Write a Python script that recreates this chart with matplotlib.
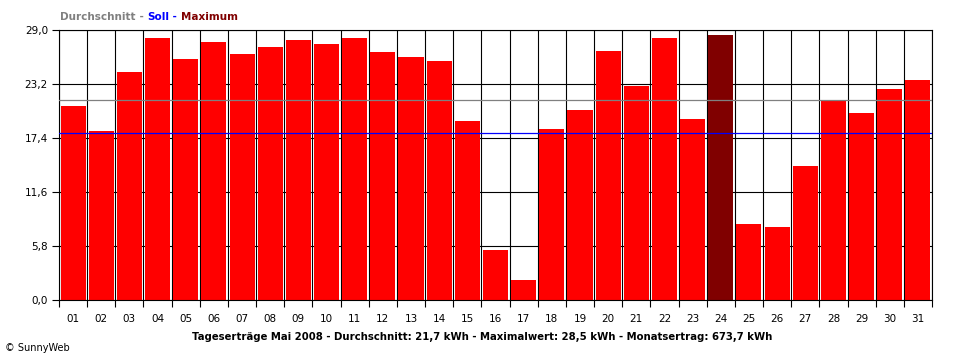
import matplotlib
matplotlib.use("Agg")
from matplotlib import pyplot as plt
import numpy as np

days = ["%02d" % d for d in range(1, 32)]
ertrag = [20.8, 18.2, 24.5, 28.1, 25.9, 27.7, 26.4, 27.2, 27.9, 27.5,
          28.1, 26.6, 26.1, 25.7, 19.2, 5.4, 2.1, 18.4, 20.4, 26.7,
          23.0, 28.1, 19.4, 28.5, 8.2, 7.8, 14.4, 21.5, 20.1, 22.7, 23.6]
durchschnitt = 21.5
soll = 17.9
yticks = [0.0, 5.8, 11.6, 17.4, 23.2, 29.0]

plt.rcParams['font.family'] = ['DejaVu Sans']
fig = plt.figure(figsize=(9.6, 3.6), dpi=100)
ax = fig.add_axes([59 / 960, 1 - 300 / 360, (932 - 59) / 960, 270 / 360])

x = np.arange(len(days))
imax = int(np.argmax(ertrag))
colors = ['#ff0000'] * len(days)
colors[imax] = '#800000'
ax.bar(x, ertrag, width=0.89, color=colors, zorder=2)

ax.set_xlim(-0.5, len(days) - 0.5)
ax.set_ylim(0, 29.0)

# grid
for yt in yticks:
    ax.axhline(yt, color='black', lw=0.8, zorder=1)
for b in np.arange(-0.5, len(days), 1.0):
    ax.axvline(b, color='black', lw=0.8, zorder=1)

ax.axhline(durchschnitt, color='#808080', lw=0.9, zorder=3)
ax.axhline(soll, color='#0000ff', lw=0.9, zorder=3)

ax.set_yticks(yticks)
ax.set_yticklabels([("%.1f" % v).replace('.', ',') for v in yticks], fontsize=7.5)
ax.set_xticks(x)
ax.set_xticklabels(days, fontsize=7.5)
ax.set_xticks(np.arange(-0.5, len(days), 1.0), minor=True)
ax.tick_params(axis='x', which='major', length=0, pad=10)
ax.tick_params(axis='x', which='minor', length=5, width=0.8, direction='out')
ax.tick_params(axis='y', length=5, width=0.8, direction='out', pad=3)
for s in ax.spines.values():
    s.set_linewidth(0.8)

# header, pieces chained one after another
parts = [("Durchschnitt", '#808080'), (" - ", '#808080'), ("Soll", '#0000ff'),
         (" - ", '#0000ff'), ("Maximum", '#800000')]
fig.canvas.draw()
r = fig.canvas.get_renderer()
xpos = 60
for txt, col in parts:
    t = fig.text(xpos / 960, 1 - 17 / 360, txt, color=col, fontsize=7.5,
                 fontweight='bold', va='center')
    xpos += t.get_window_extent(renderer=r).width

fig.text(482 / 960, 1 - 337 / 360,
         "Tageserträge Mai 2008 - Durchschnitt: 21,7 kWh - Maximalwert: 28,5 kWh - Monatsertrag: 673,7 kWh",
         fontsize=7.3, fontweight='bold', ha='center', va='center')
fig.text(5 / 960, 1 - 348 / 360, "© SunnyWeb", fontsize=7, va='center')

fig.savefig("out.png", dpi=100)
